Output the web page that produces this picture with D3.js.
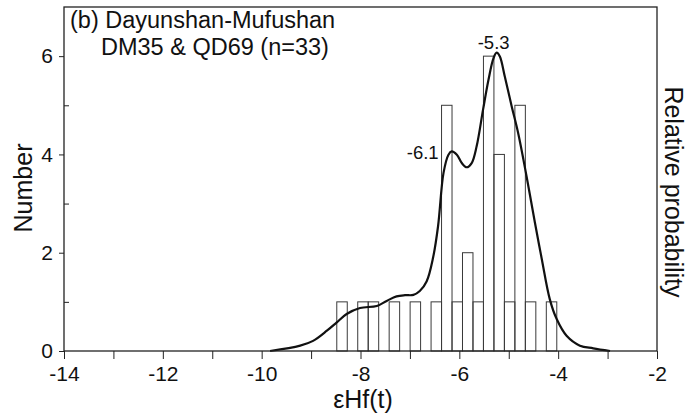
<!DOCTYPE html>
<html>
<head>
<meta charset="utf-8">
<script src="https://cdn.jsdelivr.net/npm/d3@7/dist/d3.min.js"></script>
<style>
  html, body { margin: 0; padding: 0; background: #fff; }
  svg { display: block; }
  text { font-family: "Liberation Sans", Arial, Helvetica, sans-serif; fill: #111; }
</style>
</head>
<body>
<svg id="chart" width="693" height="418"></svg>
<script>
// ---- data ----
const xTickValues = [-14, -12, -10, -8, -6, -4, -2];
const xMinorTicks = [-13, -11, -9, -7, -5, -3];
const yTickValues = [0, 2, 4, 6];
const yMinorTicks = [1, 3, 5];
const binStart = -8.48;
const binWidth = 0.212;
const binCounts = [1, 0, 1, 1, 0, 1, 0, 1, 0, 1, 5, 1, 2, 1, 6, 4, 1, 5, 1, 0, 1];
const curveX = [-9.83, -9.22, -8.96, -8.68, -8.48, -8.28, -8.01, -7.67, -7.47, -7.27, -7.10, -6.93, -6.80, -6.66, -6.53, -6.43, -6.32, -6.22, -6.155, -6.05, -5.95, -5.85, -5.75, -5.65, -5.52, -5.41, -5.31, -5.245, -5.18, -5.08, -4.94, -4.81, -4.64, -4.47, -4.33, -4.17, -4.03, -3.83, -3.56, -3.29, -2.95];
const curveP = [0.000, 0.018, 0.034, 0.068, 0.096, 0.124, 0.144, 0.151, 0.168, 0.183, 0.187, 0.188, 0.201, 0.234, 0.314, 0.419, 0.597, 0.658, 0.669, 0.658, 0.630, 0.616, 0.630, 0.686, 0.809, 0.909, 0.981, 1.000, 0.987, 0.920, 0.820, 0.731, 0.586, 0.430, 0.307, 0.174, 0.107, 0.051, 0.018, 0.009, 0.000];
const peakLabels = ["-6.1", "-5.3"];
const peakX = [-6.155, -5.245];
const peakP = [0.669, 1.000];
const titleLines = ["(b) Dayunshan-Mufushan", "DM35 & QD69 (n=33)"];
const xLabel = "\u03B5Hf(t)";
const yLabel = "Number";
const y2Label = "Relative probability";

// ---- layout ----
const svg = d3.select("#chart");
const L = 64, R = 657, T = 7, B = 351;
const x = d3.scaleLinear().domain([-14, -2]).range([L, R]);
const y = d3.scaleLinear().domain([0, 7]).range([B, T]);
const y2 = d3.scaleLinear().domain([0, 1]).range([B, 52.7]);
const fmt = d => String(d);

// bars
const bins = binCounts.map((c, i) => ({ x0: binStart + i * binWidth, x1: binStart + (i + 1) * binWidth, c }));
svg.append("g").selectAll("rect").data(bins.filter(d => d.c > 0)).join("rect")
  .attr("x", d => x(d.x0))
  .attr("y", d => y(d.c))
  .attr("width", d => x(d.x1) - x(d.x0))
  .attr("height", d => y(0) - y(d.c))
  .attr("fill", "none")
  .attr("stroke", "#3a3a3a")
  .attr("stroke-width", 1);

// curve
const pts = curveX.map((v, i) => [v, curveP[i]]);
svg.append("path")
  .datum(pts)
  .attr("fill", "none")
  .attr("stroke", "#111")
  .attr("stroke-width", 2.2)
  .attr("d", d3.line().x(d => x(d[0])).y(d => y2(d[1])).curve(d3.curveCatmullRom.alpha(0.5)));

// frame
svg.append("rect").attr("x", L).attr("y", T).attr("width", R - L).attr("height", B - T)
  .attr("fill", "none").attr("stroke", "#222").attr("stroke-width", 1.3);

// x axis
const xAxis = d3.axisBottom(x).tickValues(xTickValues).tickSize(8).tickPadding(7).tickFormat(fmt);
const gx = svg.append("g").attr("transform", `translate(0,${B})`).call(xAxis);
gx.select(".domain").remove();
gx.selectAll("text").style("font-size", "21px").attr("fill", "#111");
gx.selectAll("line").attr("stroke", "#222");
const gxm = svg.append("g").attr("transform", `translate(0,${B})`)
  .call(d3.axisBottom(x).tickValues(xMinorTicks).tickSize(8).tickFormat(""));
gxm.select(".domain").remove();
gxm.selectAll("line").attr("stroke", "#222");

// y axis
const yAxis = d3.axisLeft(y).tickValues(yTickValues).tickSize(5).tickPadding(6).tickFormat(fmt);
const gy = svg.append("g").attr("transform", `translate(${L},0)`).call(yAxis);
gy.select(".domain").remove();
gy.selectAll("text").style("font-size", "21px").attr("fill", "#111");
gy.selectAll("line").attr("stroke", "#222");
const gym = svg.append("g").attr("transform", `translate(${L},0)`)
  .call(d3.axisRight(y).tickValues(yMinorTicks).tickSize(5).tickFormat(""));
gym.select(".domain").remove();
gym.selectAll("line").attr("stroke", "#222");

// title
svg.append("text").attr("x", 70).attr("y", 28).style("font-size", "23.5px").text(titleLines[0]);
svg.append("text").attr("x", 101).attr("y", 55).style("font-size", "23.5px").text(titleLines[1]);

// peak labels
svg.append("text").attr("x", x(peakX[1]) - 3).attr("y", y2(peakP[1]) - 4)
  .attr("text-anchor", "middle").style("font-size", "18.5px").text(peakLabels[1]);
svg.append("text").attr("x", x(peakX[0]) - 13).attr("y", y2(peakP[0]) + 8)
  .attr("text-anchor", "end").style("font-size", "18.5px").text(peakLabels[0]);

// axis labels
svg.append("text").attr("x", 363).attr("y", 408).attr("text-anchor", "middle")
  .style("font-size", "25px").text(xLabel);
svg.append("text").attr("transform", `translate(32,${(T + B) / 2 + 9}) rotate(-90)`)
  .attr("text-anchor", "middle").style("font-size", "25px").text(yLabel);
svg.append("text").attr("transform", `translate(665,${(T + B) / 2 + 13}) rotate(90)`)
  .attr("text-anchor", "middle").style("font-size", "25px").text(y2Label);
</script>
</body>
</html>
